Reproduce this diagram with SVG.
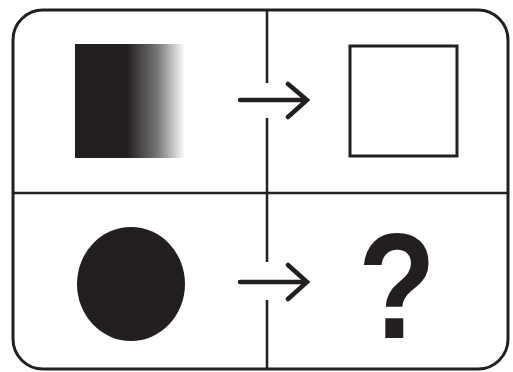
<svg xmlns="http://www.w3.org/2000/svg" width="513" height="372" viewBox="0 0 513 372">
<defs>
<linearGradient id="fade" x1="0" y1="0" x2="1" y2="0">
<stop offset="0" stop-color="#231f20"/>
<stop offset="0.47" stop-color="#231f20"/>
<stop offset="0.75" stop-color="#777"/>
<stop offset="1" stop-color="#fff"/>
</linearGradient>
<style>
.frame{fill:none;stroke:#231f20;stroke-width:3}
.div{fill:none;stroke:#231f20;stroke-width:2.5}
.arr{fill:none;stroke:#231f20;stroke-width:4.5;stroke-linecap:round;stroke-linejoin:miter}
.q{font-family:"Liberation Sans",Arial,sans-serif;font-weight:bold;fill:#231f20}
</style>
</defs>
<rect width="513" height="372" fill="#fff"/>
<g id="frame">
<rect class="frame" x="13" y="10" width="495" height="359" rx="30" ry="30"/>
<line class="div" x1="13" y1="193" x2="508" y2="193"/>
</g>
<g id="connectors">
<line class="div" x1="267" y1="10" x2="267" y2="83"/>
<line class="div" x1="267" y1="118" x2="267" y2="262"/>
<line class="div" x1="267" y1="300" x2="267" y2="369"/>
<path class="arr" d="M240 100H307M288 84L307 100L288 117"/>
<path class="arr" d="M240 282H307M288 265L307 282L288 299"/>
</g>
<g id="gradient-square"><rect x="75" y="44" width="110" height="114" fill="url(#fade)"/></g>
<g id="empty-square"><rect x="350" y="46" width="107" height="110" fill="none" stroke="#231f20" stroke-width="3"/></g>
<g id="circle"><ellipse cx="131" cy="284" rx="54" ry="57" fill="#231f20"/></g>
<g id="question"><text class="q" transform="translate(397 338) scale(0.85 1)" x="0" y="0" font-size="150" text-anchor="middle">?</text></g>
</svg>
